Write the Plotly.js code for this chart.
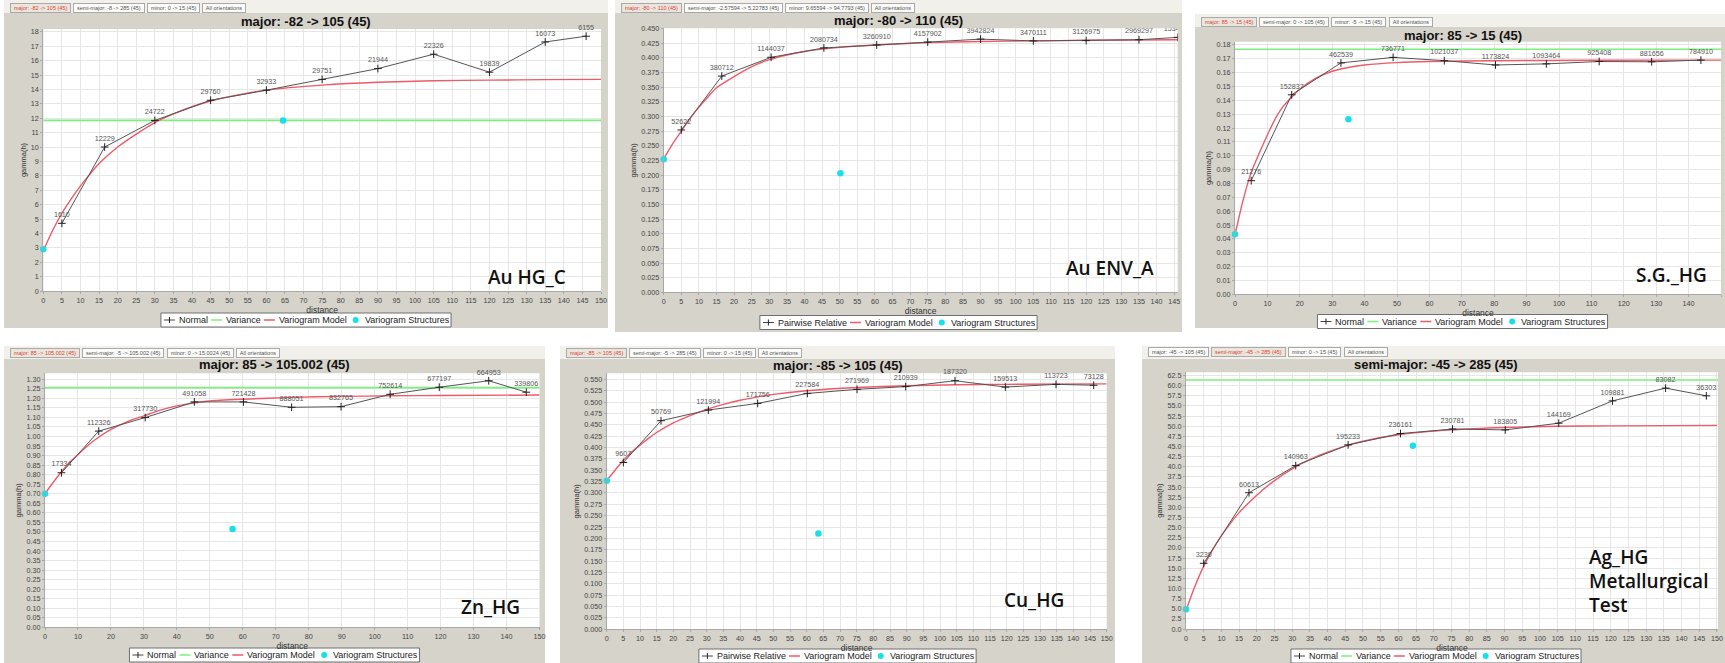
<!DOCTYPE html>
<html><head><meta charset="utf-8">
<script src="https://cdn.plot.ly/plotly-3.0.1.min.js"></script>
<style>html,body{margin:0;padding:0;background:#fff}#chart{width:1725px;height:663px}</style>
</head><body><div id="chart"></div>
<script>
// ================= DATA =================
// Au HG_C
const auHgDist = [5, 16.5, 30, 45, 60, 75, 90, 105, 120, 135, 146];
const auHgGamma = [4.7, 10.0, 11.85, 13.25, 13.95, 14.7, 15.45, 16.45, 15.2, 17.3, 17.7];
const auHgPairs = ["1610","12229","24722","29760","32933","29751","21944","22326","19839","16073","6155"];
const auHgModelDist = [0,2.5,5,7.5,10,12.5,15,20,25,30,35,40,45,50,60,75,90,105,120,135,150];
const auHgModelGamma = [2.8,4.2,5.4,6.4,7.3,8.1,8.85,10.0,10.9,11.7,12.3,12.8,13.2,13.5,13.95,14.3,14.5,14.6,14.65,14.68,14.7];
const auHgVariance = 11.85;
const auHgStructDist = [0, 64.5];
const auHgStructGamma = [2.9, 11.85];

// Au ENV_A
const auEnvDist = [5, 16.5, 30.5, 45.5, 60.5, 75, 90, 105, 120, 135, 146];
const auEnvGamma = [0.277, 0.369, 0.401, 0.417, 0.422, 0.427, 0.432, 0.429, 0.4295, 0.431, 0.435];
const auEnvPairs = ["52622","380712","1144037","2080734","3260910","4157902","3942824","3470111","3126975","2969297","1534207"];
const auEnvModelDist = [0,2.5,5,7.5,10,12.5,15,20,25,30,35,40,50,60,75,90,105,120,146];
const auEnvModelGamma = [0.228,0.253,0.275,0.297,0.316,0.333,0.349,0.368,0.385,0.397,0.405,0.411,0.418,0.422,0.426,0.428,0.429,0.43,0.431];
const auEnvStructDist = [0, 50.2];
const auEnvStructGamma = [0.227, 0.203];

// S.G._HG
const sgDist = [5, 17.5, 32.7, 48.8, 64.6, 80.4, 96.1, 112.4, 128.6, 143.8];
const sgGamma = [0.082, 0.144, 0.167, 0.171, 0.1686, 0.1655, 0.1663, 0.168, 0.1678, 0.169];
const sgPairs = ["21276","152837","462539","736771","1021037","1173824","1093464","925408","881656","784910"];
const sgModelDist = [0,2.5,5,7.5,10,12.5,15,20,25,30,35,40,50,60,80,110,150];
const sgModelGamma = [0.043,0.068,0.088,0.102,0.115,0.127,0.136,0.148,0.156,0.161,0.1637,0.1655,0.1672,0.168,0.1686,0.1689,0.169];
const sgVariance = 0.1769;
const sgStructDist = [0, 35];
const sgStructGamma = [0.0433, 0.1264];

// Zn_HG
const znDist = [5, 16.3, 30.4, 45.3, 60.2, 74.8, 89.8, 104.7, 119.6, 134.6, 146];
const znGamma = [0.81, 1.028, 1.099, 1.181, 1.181, 1.153, 1.156, 1.221, 1.258, 1.292, 1.232];
const znPairs = ["17334","112326","317730","491058","721428","888051","832765","752614","677197","664953","339806"];
const znModelDist = [0,2.5,5,7.5,10,12.5,15,20,25,30,35,40,45,50,60,75,90,105,120,150];
const znModelGamma = [0.70,0.76,0.815,0.865,0.905,0.945,0.98,1.037,1.078,1.108,1.138,1.16,1.175,1.186,1.195,1.205,1.21,1.213,1.215,1.217];
const znVariance = 1.256;
const znStructDist = [0, 56.9];
const znStructGamma = [0.70, 0.515];

// Cu_HG
const cuDist = [5, 16.3, 30.5, 45.3, 60.2, 75.1, 89.7, 104.5, 119.6, 134.8, 146.1];
const cuGamma = [0.367, 0.459, 0.4825, 0.497, 0.519, 0.528, 0.534, 0.547, 0.533, 0.539, 0.537];
const cuPairs = ["9607","50769","121994","171756","227584","271969","210939","187320","159513","113723","73128"];
const cuModelDist = [0,2.5,5,7.5,10,12.5,15,20,25,30,35,40,45,50,60,75,90,105,120,150];
const cuModelGamma = [0.327,0.35,0.372,0.39,0.405,0.42,0.433,0.454,0.47,0.484,0.495,0.504,0.511,0.517,0.525,0.532,0.536,0.538,0.539,0.54];
const cuStructDist = [0, 63.5];
const cuStructGamma = [0.327, 0.211];

// Ag_HG Metallurgical Test
const agDist = [5, 17.8, 31, 45.8, 60.6, 75.3, 90.2, 105.3, 120.5, 135.5, 147];
const agGamma = [16.2, 33.6, 40.3, 45.4, 48.2, 49.3, 49.1, 50.75, 56.25, 59.4, 57.5];
const agPairs = ["3230","60613","140963","195233","236161","230781","183805","144169","109881","83082","36303"];
const agModelDist = [0,2.5,5,7.5,10,12.5,15,20,25,30,35,40,45,50,60,75,90,105,120,150];
const agModelGamma = [4.6,10.5,15.5,19.5,23,26,28.7,33,36.6,39.5,41.8,43.6,45.1,46.3,47.9,49.1,49.7,50.0,50.1,50.2];
const agVariance = 61.4;
const agStructDist = [0, 64.1];
const agStructGamma = [4.9, 45.2];

// Titles, tabs, labels
const panelTitles = ["major: -82 -> 105 (45)","major: -80 -> 110 (45)","major: 85 -> 15 (45)","major: 85 -> 105.002 (45)","major: -85 -> 105 (45)","semi-major: -45 -> 285 (45)"];
const panelTabs = [
  ["major: -82 -> 105 (45)","semi-major: -8 -> 285 (45)","minor: 0 -> 15 (45)","All orientations"],
  ["major: -80 -> 110 (45)","semi-major: -2.57594 -> 5.22783 (45)","minor: 9.65594 -> 94.7793 (45)","All orientations"],
  ["major: 85 -> 15 (45)","semi-major: 0 -> 105 (45)","minor: -5 -> 15 (45)","All orientations"],
  ["major: 85 -> 105.002 (45)","semi-major: -5 -> 105.002 (45)","minor: 0 -> 15.0024 (45)","All orientations"],
  ["major: -85 -> 105 (45)","semi-major: -5 -> 285 (45)","minor: 0 -> 15 (45)","All orientations"],
  ["major: -45 -> 105 (45)","semi-major: -45 -> 285 (45)","minor: 0 -> 15 (45)","All orientations"]
];
const panelLabels = [["Au HG_C"],["Au ENV_A"],["S.G._HG"],["Zn_HG"],["Cu_HG"],["Ag_HG","Metallurgical","Test"]];

// ================= GEOMETRY / STYLE =================
const W = 1725, H = 663;
const FONT = '"Liberation Sans", Arial, sans-serif';
const fx = x => x / W, fy = y => 1 - y / H;

const panels = [
  {box:[4,0,608,328], plot:[43.3,29,601,291], xr:[0,150], xd:5, yr:[0,18.2], yd:1, yf:'d', titleY:21, tabY:8, sel:0, legY:320, lab:[487,277], clip:false,
   dist:auHgDist, gamma:auHgGamma, pairs:auHgPairs, mDist:auHgModelDist, mGamma:auHgModelGamma, variance:auHgVariance, sDist:auHgStructDist, sGamma:auHgStructGamma, dataName:'Normal'},
  {box:[615,0,1182,332], plot:[663.7,28.3,1177.7,292.3], xr:[0,146], xd:5, yr:[0,0.4505], yd:0.025, yf:'.3f', titleY:20, tabY:8, sel:0, legY:322.5, lab:[1065,268], clip:true,
   dist:auEnvDist, gamma:auEnvGamma, pairs:auEnvPairs, mDist:auEnvModelDist, mGamma:auEnvModelGamma, variance:null, sDist:auEnvStructDist, sGamma:auEnvStructGamma, dataName:'Pairwise Relative'},
  {box:[1195,14,1730,328], plot:[1235,41.7,1721,294.3], xr:[0,150], xd:10, yr:[0,0.1823], yd:0.01, yf:'.2f', titleY:35, tabY:22, sel:0, legY:321.5, lab:[1635,275], clip:false,
   dist:sgDist, gamma:sgGamma, pairs:sgPairs, mDist:sgModelDist, mGamma:sgModelGamma, variance:sgVariance, sDist:sgStructDist, sGamma:sgStructGamma, dataName:'Normal'},
  {box:[4,346,545,663], plot:[45,373.3,539.5,627.3], xr:[0,150], xd:10, yr:[0,1.331], yd:0.05, yf:'.2f', titleY:364, tabY:353.3, sel:0, legY:655, lab:[460,606.7], clip:false,
   dist:znDist, gamma:znGamma, pairs:znPairs, mDist:znModelDist, mGamma:znModelGamma, variance:znVariance, sDist:znStructDist, sGamma:znStructGamma, dataName:'Normal'},
  {box:[560,346,1115,663], plot:[606.7,373.3,1106.7,629.3], xr:[0,150], xd:5, yr:[0,0.5633], yd:0.025, yf:'.3f', titleY:365, tabY:353.3, sel:0, legY:656, lab:[1002.7,600], clip:false,
   dist:cuDist, gamma:cuGamma, pairs:cuPairs, mDist:cuModelDist, mGamma:cuModelGamma, variance:null, sDist:cuStructDist, sGamma:cuStructGamma, dataName:'Pairwise Relative'},
  {box:[1142,346,1730,663], plot:[1186,372.3,1718,629], xr:[0,150.3], xd:5, yr:[0,63.3], yd:2.5, yf:'.1f', titleY:364, tabY:352.3, sel:1, legY:656, lab:[1587.7,556.7], clip:false,
   dist:agDist, gamma:agGamma, pairs:agPairs, mDist:agModelDist, mGamma:agModelGamma, variance:agVariance, sDist:agStructDist, sGamma:agStructGamma, dataName:'Normal'}
];

const C = {panel:'#d6d3cb', strip:'#f1f0ea', grid:'#e6e6e6', axis:'#a8a8a8', tick:'#444', black:'#555', marker:'#222',
  variance:'#7cf07c', model:'#ee5a68', struct:'#19e0e8'};

const canvas = document.createElement('canvas');
const ctx = canvas.getContext('2d');
function textW(t, size, weight) { ctx.font = (weight||'') + ' ' + size + 'px "Liberation Sans"'; return ctx.measureText(t).width; }

const traces = [];
const layout = {width:W, height:H, margin:{l:0,r:0,t:0,b:0}, paper_bgcolor:'#fff', plot_bgcolor:'#fff',
  showlegend:false, font:{family:FONT}, shapes:[], annotations:[], hovermode:false};

function rect(x0,y0,x1,y1,fill,line,layer){ layout.shapes.push({type:'rect', xref:'paper', yref:'paper', x0:fx(x0), x1:fx(x1), y0:fy(y1), y1:fy(y0), fillcolor:fill, line:{width:line?1:0, color:line||fill}, layer:layer||'below'}); }
function seg(x0,y0,x1,y1,color,w){ layout.shapes.push({type:'line', xref:'paper', yref:'paper', x0:fx(x0), x1:fx(x1), y0:fy(y0), y1:fy(y1), line:{color:color, width:w||1}, layer:'above'}); }
function txt(t,x,y,opts){ layout.annotations.push(Object.assign({text:t, xref:'paper', yref:'paper', x:fx(x), y:fy(y), showarrow:false, xanchor:'left', yanchor:'middle', borderpad:0, font:{family:FONT, size:9, color:'#222'}}, opts||{})); }

panels.forEach((p, i) => {
  const n = i + 1;
  const xa = n === 1 ? 'x' : 'x' + n, ya = n === 1 ? 'y' : 'y' + n;
  const xk = n === 1 ? 'xaxis' : 'xaxis' + n, yk = n === 1 ? 'yaxis' : 'yaxis' + n;

  // panel background, tab strip, white plot area
  rect(p.box[0], p.box[1], p.box[2], p.box[3], C.panel);
  rect(p.box[0], p.box[1], p.box[2], p.box[1] + 13, C.strip);
  layout.shapes.push({type:'rect', xref:xa + ' domain', yref:ya + ' domain', x0:0, x1:1, y0:0, y1:1, fillcolor:'#fff', line:{width:0}, layer:'below'});

  const common = {showgrid:true, gridcolor:C.grid, gridwidth:1, zeroline:false, showline:true, linecolor:C.axis, linewidth:1,
    ticks:'outside', ticklen:2, tickcolor:C.axis, tickfont:{size:7.2, color:C.tick, family:FONT}, fixedrange:true, automargin:false, tick0:0};
  layout[xk] = Object.assign({}, common, {domain:[fx(p.plot[0]), fx(p.plot[2])], range:p.xr, dtick:p.xd, anchor:ya,
    title:{text:'distance', font:{size:8.5, color:'#333', family:FONT}, standoff:1}});
  layout[yk] = Object.assign({}, common, {domain:[fy(p.plot[3]), fy(p.plot[1])], range:p.yr, dtick:p.yd, tickformat:p.yf, anchor:xa,
    title:{text:'gamma(h)', font:{size:7.5, color:'#333', family:FONT}, standoff:3}});

  if (p.variance != null) traces.push({x:[p.xr[0], p.xr[1]], y:[p.variance, p.variance], xaxis:xa, yaxis:ya, mode:'lines', name:'Variance',
    line:{color:C.variance, width:1.6}, hoverinfo:'skip'});
  traces.push({x:p.mDist, y:p.mGamma, xaxis:xa, yaxis:ya, mode:'lines', name:'Variogram Model',
    line:{color:C.model, width:1.4, shape:'spline', smoothing:0.6}, hoverinfo:'skip'});
  traces.push({x:p.dist, y:p.gamma, text:p.pairs, xaxis:xa, yaxis:ya, mode:'lines+markers+text', name:p.dataName,
    textposition:'top center', textfont:{size:7.2, color:'#555', family:FONT}, cliponaxis:p.clip,
    line:{color:C.black, width:1}, marker:{symbol:'cross-thin', size:5.5, color:C.marker, line:{width:1, color:C.marker}}, hoverinfo:'skip'});
  traces.push({x:p.sDist, y:p.sGamma, xaxis:xa, yaxis:ya, mode:'markers', name:'Variogram Structures', cliponaxis:false,
    marker:{symbol:'circle', size:6.5, color:C.struct}, hoverinfo:'skip'});

  // title
  txt(panelTitles[i], (p.box[0] + p.box[2]) / 2, p.titleY, {xanchor:'center', font:{family:FONT, size:13, color:'#111', weight:700}});

  // tabs
  let tx = p.box[0] + 6;
  panelTabs[i].forEach((t, k) => {
    const w = textW(t, 5.5) + 6;
    const sel = k === p.sel;
    layout.annotations.push({text:t, xref:'paper', yref:'paper', x:fx(tx), y:fy(p.tabY), xanchor:'left', yanchor:'middle', showarrow:false,
      width:w, height:8, align:'center', borderpad:0, borderwidth:1, bordercolor:'#a9a9a9', bgcolor: sel ? '#e9e6dd' : '#fbfbf9',
      font:{family:FONT, size:5.5, color: sel ? '#e0403a' : '#555'}});
    tx += w + 4;
  });

  // legend
  const items = [{k:'data', t:p.dataName}];
  if (p.variance != null) items.push({k:'var', t:'Variance'});
  items.push({k:'model', t:'Variogram Model'}, {k:'struct', t:'Variogram Structures'});
  const widths = items.map(it => textW(it.t, 9));
  const total = widths.reduce((a, b) => a + b, 0) + items.length * 14 + (items.length - 1) * 4;
  const cx = (p.box[0] + p.box[2]) / 2;
  let lx = cx - total / 2;
  rect(lx - 3, p.legY - 7, lx + total + 3, p.legY + 7, '#ffffff', '#6e6e6e', 'above');
  const ly = p.legY;
  items.forEach((it, k) => {
    if (it.k === 'data') { seg(lx, ly, lx + 11, ly, '#444', 1); seg(lx + 5.5, ly - 3, lx + 5.5, ly + 3, '#222', 1); }
    if (it.k === 'var') seg(lx, ly, lx + 11, ly, C.variance, 1.5);
    if (it.k === 'model') seg(lx, ly, lx + 11, ly, C.model, 1.5);
    if (it.k === 'struct') layout.shapes.push({type:'circle', xref:'paper', yref:'paper', x0:fx(lx + 3), x1:fx(lx + 9), y0:fy(ly + 3), y1:fy(ly - 3), fillcolor:C.struct, line:{width:0}, layer:'above'});
    txt(it.t, lx + 14, ly, {font:{family:FONT, size:9, color:'#222'}});
    lx += 14 + widths[k] + 4;
  });

  // overlay label
  panelLabels[i].forEach((t, k) => {
    txt(t, p.lab[0], p.lab[1] + k * 24.3, {font:{family:'"Open Sans", "Noto Sans", sans-serif', size:19, color:'#111', weight:600}});
  });
});

Plotly.newPlot('chart', traces, layout, {staticPlot:true, displayModeBar:false});
</script>
</body></html>
